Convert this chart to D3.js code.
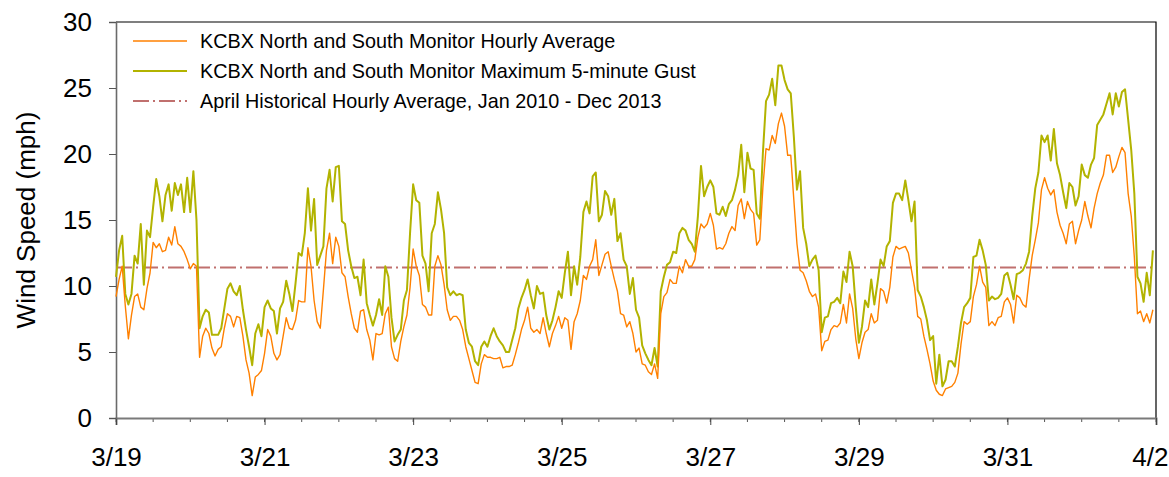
<!DOCTYPE html>
<html>
<head>
<meta charset="utf-8">
<script src="https://cdn.jsdelivr.net/npm/d3@7"></script>
<style>
  body { margin: 0; background: #fff; }
  #graf text { font-family: 'Liberation Sans', Arial, sans-serif; fill: #000; }
</style>
</head>
<body>
<div id="graf"></div>
<script>
// datos horarios desde 3/19 00:00 (una lectura por hora, 336 horas)
const inicio = new Date(2014, 2, 19)
const fin = new Date(2014, 3, 2)

const promedioHorario = [
  9.2, 10.5, 11.5, 8.5, 6.0, 7.8, 9.2, 9.4, 8.4, 8.2, 9.8, 11.0,
  13.3, 12.9, 13.2, 12.6, 12.7, 13.7, 13.1, 14.5, 13.2, 13.0, 12.6, 12.0,
  11.3, 11.7, 11.5, 4.6, 6.2, 6.8, 6.4, 5.3, 4.7, 5.2, 5.4, 6.8,
  7.9, 7.7, 6.9, 7.7, 7.6, 6.2, 4.4, 3.4, 1.7, 3.1, 3.3, 3.6,
  4.9, 6.7, 6.2, 4.9, 4.4, 4.8, 6.2, 7.6, 6.8, 6.7, 7.4, 8.9,
  8.8, 8.8, 12.9, 11.5, 8.9, 7.3, 6.8, 9.7, 12.7, 14.0, 11.7, 13.7,
  13.0, 11.0, 10.7, 9.2, 7.9, 6.8, 6.5, 8.1, 8.2, 6.7, 5.9, 4.4,
  6.4, 6.3, 6.4, 7.9, 8.4, 5.4, 4.5, 4.3, 5.8, 6.9, 7.8, 9.9,
  12.8, 11.5, 10.8, 8.6, 8.4, 7.8, 7.8, 11.5, 12.3, 11.6, 10.1, 8.2,
  7.4, 7.7, 7.7, 7.4, 6.7, 5.4, 4.5, 3.6, 2.7, 2.6, 4.1, 4.8,
  4.6, 4.6, 4.5, 4.5, 4.6, 3.8, 3.9, 3.9, 4.0, 4.8, 5.7, 6.7,
  7.4, 8.4, 6.8, 6.5, 6.7, 6.4, 7.6, 6.4, 5.4, 6.4, 7.0, 7.7,
  6.8, 7.6, 7.4, 5.2, 7.3, 7.9, 8.9, 10.8, 10.5, 11.5, 12.0, 13.5,
  10.8, 11.6, 12.4, 12.6, 11.5, 10.5, 9.6, 7.9, 7.8, 6.9, 7.3, 6.4,
  5.0, 5.3, 4.1, 4.0, 3.5, 3.3, 4.1, 3.0, 7.9, 9.2, 9.5, 10.5,
  10.2, 10.2, 11.5, 11.0, 12.0, 11.5, 11.5, 12.0, 13.7, 14.7, 14.4, 14.7,
  15.5, 14.6, 12.8, 12.9, 12.8, 13.2, 14.0, 14.5, 14.2, 16.1, 16.6, 15.1,
  16.4, 15.8, 15.5, 13.1, 13.5, 17.5, 20.4, 20.3, 21.4, 20.8, 22.3, 23.1,
  22.1, 19.9, 19.9, 16.5, 13.2, 11.2, 11.0, 10.4, 9.6, 9.2, 9.4, 8.4,
  5.1, 5.8, 5.9, 6.7, 7.0, 6.9, 7.2, 8.6, 7.2, 9.4, 8.3, 6.0,
  4.5, 5.7, 6.5, 6.7, 7.9, 7.2, 7.4, 9.8, 9.6, 8.7, 9.9, 12.2,
  13.0, 12.8, 12.9, 13.0, 12.5, 11.2, 9.9, 7.7, 7.5, 6.2, 5.2, 4.1,
  2.8, 2.1, 1.8, 1.7, 2.2, 2.3, 2.4, 2.7, 3.4, 5.6, 7.3, 7.1,
  7.3, 9.2, 10.1, 11.5, 10.3, 9.9, 7.0, 7.3, 7.0, 7.6, 7.7, 8.8,
  9.1, 8.6, 7.2, 9.3, 9.1, 8.6, 8.4, 10.5, 12.3, 13.5, 14.8, 17.3,
  18.2, 17.4, 16.9, 17.3, 15.6, 14.6, 14.0, 13.2, 14.7, 14.9, 13.2, 14.2,
  15.0, 16.4, 15.3, 14.4, 15.9, 17.0, 17.8, 18.4, 19.9, 19.9, 18.6, 19.0,
  19.8, 20.5, 20.1, 17.0, 15.3, 12.2, 7.9, 8.1, 7.3, 7.9, 7.2, 8.2
]

const rafagaMaxima = [
  10.7, 12.7, 13.8, 9.4, 8.6, 9.4, 12.3, 11.7, 14.7, 10.1, 14.2, 13.7,
  16.0, 18.1, 16.8, 14.9, 16.9, 17.7, 15.7, 17.8, 16.9, 17.7, 15.6, 18.2,
  15.6, 18.7, 15.0, 6.8, 7.7, 8.2, 8.0, 6.3, 6.3, 6.3, 6.8, 8.3,
  9.8, 10.2, 9.6, 9.3, 10.0, 8.2, 6.7, 5.4, 4.0, 6.4, 7.1, 6.2,
  8.4, 8.9, 8.3, 8.1, 6.4, 8.3, 8.8, 10.4, 9.4, 8.1, 10.2, 12.5,
  12.3, 14.0, 17.4, 14.2, 16.6, 11.6, 12.3, 13.0, 17.4, 18.8, 16.4, 19.0,
  19.1, 14.9, 14.7, 12.7, 11.5, 10.6, 10.7, 9.3, 12.0, 8.7, 7.8, 7.0,
  7.8, 9.0, 7.8, 11.5, 10.7, 7.6, 5.8, 6.3, 6.7, 8.9, 9.7, 14.0,
  17.7, 16.5, 16.3, 12.3, 11.7, 9.6, 14.0, 14.7, 17.1, 15.8, 14.0, 9.9,
  9.3, 9.6, 9.3, 9.4, 9.3, 6.7, 5.7, 5.4, 4.3, 4.0, 5.4, 5.8,
  5.4, 6.2, 6.8, 6.2, 5.8, 5.5, 5.0, 5.0, 5.9, 6.8, 8.3, 9.1,
  9.7, 10.5, 9.3, 8.3, 10.0, 9.4, 9.5, 7.8, 6.7, 7.4, 8.4, 9.6,
  9.1, 11.0, 12.6, 9.3, 11.5, 10.1, 12.2, 15.6, 16.4, 15.5, 18.3, 18.6,
  14.9, 15.4, 17.2, 16.8, 15.4, 16.6, 13.4, 14.0, 12.0, 11.5, 9.4, 10.6,
  8.2, 7.6, 5.5, 4.9, 4.4, 4.0, 5.3, 3.9, 9.6, 10.7, 11.6, 11.8,
  12.6, 12.5, 14.0, 14.4, 14.2, 13.5, 13.2, 12.6, 15.3, 19.1, 16.8, 17.5,
  18.0, 17.5, 15.5, 15.4, 16.0, 15.3, 16.2, 16.5, 17.3, 18.4, 20.7, 17.1,
  20.1, 18.9, 18.8, 15.5, 15.1, 20.1, 24.0, 24.5, 25.7, 23.7, 26.7, 26.7,
  25.6, 24.9, 24.6, 21.3, 17.3, 18.7, 14.4, 13.2, 11.5, 12.0, 12.3, 11.2,
  6.5, 7.6, 7.7, 8.7, 8.8, 9.1, 8.7, 11.1, 10.3, 12.6, 11.5, 8.4,
  5.7, 6.9, 8.9, 8.4, 10.5, 8.6, 10.2, 12.0, 11.5, 13.0, 13.4, 16.3,
  17.0, 17.0, 16.5, 18.0, 16.5, 14.9, 16.4, 9.7, 9.2, 8.4, 7.4, 5.9,
  6.2, 2.6, 4.8, 2.4, 2.9, 4.3, 4.3, 3.9, 5.4, 7.2, 8.4, 8.7,
  9.1, 12.2, 12.3, 13.5, 12.7, 11.6, 8.9, 9.2, 9.0, 9.1, 9.4, 10.8,
  11.0, 10.1, 9.0, 10.9, 11.0, 11.2, 11.7, 12.6, 15.3, 17.4, 18.6, 21.4,
  20.9, 21.4, 19.5, 21.9, 19.3, 18.4, 17.1, 15.9, 17.8, 17.5, 16.1, 16.8,
  19.2, 18.4, 18.2, 19.2, 19.7, 22.2, 22.6, 23.0, 23.8, 24.6, 23.0, 24.6,
  23.6, 24.7, 24.9, 22.6, 20.3, 17.0, 10.7, 10.2, 8.8, 11.0, 9.3, 12.7
]

const promedioHistorico = 11.4
const ticksY = [0, 5, 10, 15, 20, 25, 30]
const etiquetasX = ['3/19', '3/21', '3/23', '3/25', '3/27', '3/29', '3/31', '4/2']
const nombresSeries = [
  'KCBX North and South Monitor Hourly Average',
  'KCBX North and South Monitor Maximum 5-minute Gust',
  'April Historical Hourly Average, Jan 2010 - Dec 2013'
]

const anchoTotal = 1169
const altoTotal = 477
const margin = { top: 22, bottom: 59, left: 116, right: 13 }
const ancho = anchoTotal - margin.left - margin.right
const alto = altoTotal - margin.top - margin.bottom

const svg = d3.select('#graf')
  .append('svg')
  .attr('width', anchoTotal)
  .attr('height', altoTotal)

const g = svg.append('g')
  .attr('transform', `translate(${margin.left}, ${margin.top})`)

const horaFecha = i => d3.timeHour.offset(inicio, i)
const datosProm = promedioHorario.map((v, i) => ({ t: horaFecha(i), v }))
const datosRaf = rafagaMaxima.map((v, i) => ({ t: horaFecha(i), v }))

const x = d3.scaleTime().domain([inicio, fin]).range([0, ancho])
const y = d3.scaleLinear().domain([0, 30]).range([alto, 0])

// marco superior y derecho
g.append('path')
  .attr('d', `M0,0H${ancho}V${alto}`)
  .attr('fill', 'none')
  .attr('stroke', '#000')
  .attr('stroke-width', 1.2)

// ticks menores cada 12 horas
const menores = d3.range(0, 29).map(i => d3.timeHour.offset(inicio, i * 12))
g.append('g')
  .selectAll('line')
  .data(menores)
  .join('line')
    .attr('x1', d => x(d))
    .attr('x2', d => x(d))
    .attr('y1', alto)
    .attr('y2', alto + 4)
    .attr('stroke', '#555')
    .attr('stroke-width', 1)

const mayores = etiquetasX.map((d, i) => d3.timeDay.offset(inicio, i * 2))
const xAxisGroup = g.append('g')
  .attr('transform', `translate(0, ${alto})`)
  .call(
    d3.axisBottom(x)
      .tickValues(mayores)
      .tickSize(7)
      .tickPadding(23)
      .tickFormat((d, i) => etiquetasX[i])
  )
xAxisGroup.select('.domain').attr('stroke', '#7a7a7a').attr('stroke-width', 2)
xAxisGroup.selectAll('.tick line').attr('stroke', '#444')
xAxisGroup.selectAll('text').style('font-size', '26px')
// la ultima etiqueta queda pegada al borde
xAxisGroup.selectAll('.tick:last-of-type text')
  .attr('text-anchor', 'end')
  .attr('x', 12)

const yAxisGroup = g.append('g')
  .call(
    d3.axisLeft(y)
      .tickValues(ticksY)
      .tickSize(7)
      .tickPadding(17)
  )
yAxisGroup.select('.domain').attr('stroke', '#6a6a6a').attr('stroke-width', 1.6)
yAxisGroup.selectAll('.tick line').attr('stroke', '#555')
yAxisGroup.selectAll('text').style('font-size', '26px')

svg.append('text')
  .attr('transform', `translate(35, ${margin.top + alto / 2}) rotate(-90)`)
  .attr('text-anchor', 'middle')
  .style('font-size', '26px')
  .text('Wind Speed (mph)')

const colores = ['#ff8000', '#b2b300', '#c0706e']

const linea = d3.line()
  .x(d => x(d.t))
  .y(d => y(d.v))

g.append('line')
  .attr('x1', 0)
  .attr('x2', ancho)
  .attr('y1', y(promedioHistorico))
  .attr('y2', y(promedioHistorico))
  .attr('stroke', colores[2])
  .attr('stroke-width', 2)
  .attr('stroke-dasharray', '16,4,2,4')

g.append('path')
  .datum(datosRaf)
  .attr('d', linea)
  .attr('fill', 'none')
  .attr('stroke', colores[1])
  .attr('stroke-width', 2)
  .attr('stroke-linejoin', 'round')

g.append('path')
  .datum(datosProm)
  .attr('d', linea)
  .attr('fill', 'none')
  .attr('stroke', colores[0])
  .attr('stroke-width', 1.4)
  .attr('stroke-linejoin', 'round')

// leyenda
const leyenda = svg.append('g')
  .selectAll('g')
  .data(nombresSeries)
  .join('g')
    .attr('transform', (d, i) => `translate(133, ${41 + i * 30})`)

leyenda.append('line')
  .attr('x1', 0)
  .attr('x2', 54)
  .attr('stroke', (d, i) => colores[i])
  .attr('stroke-width', (d, i) => i === 0 ? 1.4 : 2)
  .attr('stroke-dasharray', (d, i) => i === 2 ? '16,4,2,4' : null)

leyenda.append('text')
  .attr('x', 67)
  .attr('dy', '0.35em')
  .style('font-size', '19.8px')
  .text(d => d)
</script>
</body>
</html>
